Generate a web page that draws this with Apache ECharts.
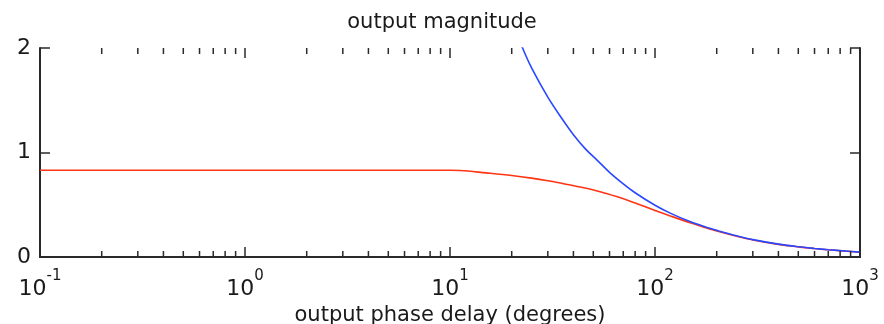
<!DOCTYPE html>
<html>
<head>
<meta charset="utf-8">
<script src="https://cdn.jsdelivr.net/npm/echarts@6/dist/echarts.min.js"></script>
<style>
  html, body { margin: 0; padding: 0; background: #fff; }
  #chart { width: 884px; height: 324px; }
</style>
</head>
<body>
<div id="chart"></div>
<script>
// Axis ranges and decade ticks (log x axis)
const xMin = 0.1;
const xMax = 1000;
const yMin = 0;
const yMax = 2;
const decadeTicks = [0.1, 1, 10, 100, 1000];
const decadeExponents = ['-1', '0', '1', '2', '3'];

// Upper bound curve
const blueX = [20, 22.6, 25, 30, 35, 40, 46, 52, 60, 70, 80, 100, 120, 150, 185, 200, 250, 300, 400, 500, 600, 700, 800, 1000];
const blueY = [2.27, 2.0, 1.81, 1.53, 1.33, 1.17, 1.03, 0.93, 0.81, 0.70, 0.615, 0.495, 0.415, 0.335, 0.275, 0.255, 0.203, 0.166, 0.123, 0.098, 0.082, 0.07, 0.061, 0.047];

// Output magnitude curve
const redX = [0.1, 0.2, 0.5, 1, 2, 5, 10, 11.2, 15, 20, 25, 30, 35, 43, 54, 65, 78, 100, 120, 150, 185, 200, 250, 300, 400, 500, 600, 700, 800, 1000];
const redY = [0.83, 0.83, 0.83, 0.83, 0.83, 0.83, 0.83, 0.828, 0.805, 0.78, 0.755, 0.73, 0.705, 0.67, 0.625, 0.578, 0.525, 0.445, 0.39, 0.325, 0.268, 0.248, 0.199, 0.163, 0.121, 0.097, 0.081, 0.069, 0.06, 0.046];

// Minor ticks at 2..9 within each decade
const minorTicks = [];
for (let d = 0; d < decadeTicks.length - 1; d++) {
  for (let m = 2; m <= 9; m++) minorTicks.push(+(decadeTicks[d] * m).toPrecision(6));
}

const FONT = 'DejaVu Sans';
const AXIS_COLOR = '#2a2a2a';
const TEXT_COLOR = '#1a1a1a';

const chart = echarts.init(document.getElementById('chart'), null, { renderer: 'canvas' });

const logAxisBase = {
  type: 'log',
  logBase: 10,
  min: xMin,
  max: xMax,
  splitLine: { show: false },
  axisLine: { show: true, lineStyle: { color: AXIS_COLOR, width: 2 } },
  axisTick: { show: false }
};

const valueAxisBase = {
  type: 'value',
  min: yMin,
  max: yMax,
  interval: 1,
  splitLine: { show: false },
  axisLine: { show: true, lineStyle: { color: AXIS_COLOR, width: 2 } },
  axisTick: { show: true, inside: true, length: 10, lineStyle: { color: AXIS_COLOR, width: 1.5 } }
};

// Ticks along top and bottom edges, drawn through the x scale
function tickSeries(values, len) {
  return {
    type: 'custom',
    xAxisIndex: 0,
    yAxisIndex: 0,
    silent: true,
    clip: false,
    z: 5,
    data: values.map(v => [v, yMin]),
    renderItem: function (params, api) {
      const v = api.value(0);
      const b = api.coord([v, yMin]);
      const t = api.coord([v, yMax]);
      const style = { stroke: AXIS_COLOR, lineWidth: 1.5 };
      return {
        type: 'group',
        children: [
          { type: 'line', shape: { x1: b[0], y1: b[1], x2: b[0], y2: b[1] - len }, style: style },
          { type: 'line', shape: { x1: t[0], y1: t[1], x2: t[0], y2: t[1] + len }, style: style }
        ]
      };
    }
  };
}

chart.setOption({
  animation: false,
  backgroundColor: '#fff',
  title: {
    text: 'output magnitude',
    left: 'center',
    top: 7,
    textStyle: { fontFamily: FONT, fontSize: 21, fontWeight: 'normal', color: TEXT_COLOR }
  },
  grid: { left: 40, right: 24, top: 48, bottom: 67, containLabel: false, outerBoundsMode: 'none' },
  xAxis: [
    Object.assign({}, logAxisBase, {
      position: 'bottom',
      name: 'output phase delay (degrees)',
      nameLocation: 'middle',
      nameGap: 43,
      nameTextStyle: { fontFamily: FONT, fontSize: 21, color: TEXT_COLOR },
      axisLabel: {
        show: true,
        margin: 12,
        formatter: function (v) {
          const i = decadeTicks.findIndex(t => Math.abs(Math.log10(t) - Math.log10(v)) < 1e-6);
          return i < 0 ? '' : '{b|10}{s|' + decadeExponents[i] + '}';
        },
        rich: {
          b: { fontFamily: FONT, fontSize: 22, color: TEXT_COLOR, lineHeight: 31, verticalAlign: 'bottom' },
          s: { fontFamily: FONT, fontSize: 15, color: TEXT_COLOR, lineHeight: 15, verticalAlign: 'top' }
        }
      }
    }),
    Object.assign({}, logAxisBase, {
      position: 'top',
      axisLabel: { show: false }
    })
  ],
  yAxis: [
    Object.assign({}, valueAxisBase, {
      position: 'left',
      axisLabel: { show: true, margin: 9, fontFamily: FONT, fontSize: 22, color: TEXT_COLOR }
    }),
    Object.assign({}, valueAxisBase, {
      position: 'right',
      axisLabel: { show: false }
    })
  ],
  series: [
    tickSeries(minorTicks, 6),
    tickSeries(decadeTicks, 10),
    {
      name: 'magnitude',
      type: 'line',
      xAxisIndex: 0,
      yAxisIndex: 0,
      showSymbol: false,
      smooth: 0.35,
      clip: true,
      lineStyle: { color: '#ff3414', width: 1.6 },
      data: redX.map((x, i) => [x, redY[i]]),
      z: 3
    },
    {
      name: 'bound',
      type: 'line',
      xAxisIndex: 0,
      yAxisIndex: 0,
      showSymbol: false,
      smooth: 0.35,
      clip: true,
      lineStyle: { color: '#2a48ff', width: 1.6 },
      data: blueX.map((x, i) => [x, blueY[i]]),
      z: 4
    }
  ]
});
</script>
</body>
</html>
